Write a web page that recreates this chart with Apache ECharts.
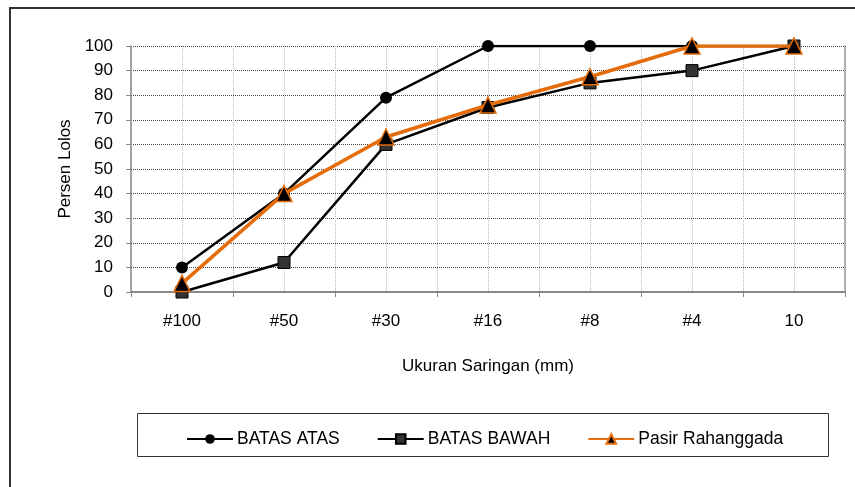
<!DOCTYPE html>
<html>
<head>
<meta charset="utf-8">
<script src="https://cdn.jsdelivr.net/npm/echarts@6/dist/echarts.min.js"></script>
<style>
  html, body { margin: 0; padding: 0; background: #fff; }
  #chart { width: 855px; height: 487px; }
</style>
</head>
<body>
<div id="chart"></div>
<script>
// ukuran saringan (sumbu x)
let categories = ['#100', '#50', '#30', '#16', '#8', '#4', '10']
let batasAtas = [10, 40, 79, 100, 100, 100, 100]
let batasBawah = [0, 12, 60, 75, 85, 90, 100]
let pasirRahanggada = [3.5, 40, 63, 76, 87.5, 100, 100]
let yTicks = [0, 10, 20, 30, 40, 50, 60, 70, 80, 90, 100]

let font = 'Liberation Sans, Arial, sans-serif'
let orange = '#E46C0A'

let options = {
  animation: false,
  backgroundColor: '#fff',
  textStyle: { fontFamily: font },
  grid: { left: 131, right: 10, top: 46, bottom: 195 },
  graphic: [
    // bingkai luar
    { type: 'rect', shape: { x: 10, y: 8, width: 870, height: 500 }, style: { fill: 'none', stroke: '#333', lineWidth: 2 }, silent: true },
    // kotak legend
    { type: 'rect', shape: { x: 137.5, y: 413.5, width: 691, height: 43 }, style: { fill: '#fff', stroke: '#333', lineWidth: 1 }, silent: true, z: -1 }
  ],
  legend: {
    left: 181,
    top: 425,
    itemWidth: 46,
    itemHeight: 12,
    itemGap: 37,
    textStyle: { fontFamily: font, fontSize: 17.5, color: '#000', padding: [0, 0, 0, -1] },
    data: ['BATAS ATAS', 'BATAS BAWAH', 'Pasir Rahanggada']
  },
  xAxis: [
    {
      type: 'category',
      data: categories,
      boundaryGap: true,
      name: 'Ukuran Saringan (mm)',
      nameLocation: 'middle',
      nameGap: 66,
      nameTextStyle: { fontFamily: font, fontSize: 17, color: '#000' },
      axisLine: { lineStyle: { color: '#888', width: 2 } },
      axisTick: { show: true, length: 5, lineStyle: { color: '#888' } },
      axisLabel: { margin: 21, fontSize: 17, color: '#000', fontFamily: font },
      splitLine: { show: false }
    },
    {
      // sumbu bantu untuk garis grid vertikal
      type: 'value',
      min: 0,
      max: 14,
      interval: 1,
      show: true,
      axisLine: { show: false },
      axisTick: { show: false },
      axisLabel: { show: false },
      splitLine: { show: true, lineStyle: { color: '#bbb', type: 'dotted', width: 1 } }
    }
  ],
  yAxis: [
    {
      type: 'value',
      min: 0,
      max: 100,
      interval: 10,
      name: 'Persen Lolos',
      nameLocation: 'middle',
      nameGap: 55,
      nameTextStyle: { fontFamily: font, fontSize: 17, color: '#000' },
      axisLine: { show: true, lineStyle: { color: '#888', width: 1.5 } },
      axisTick: { show: true, length: 5, lineStyle: { color: '#888' } },
      axisLabel: {
        margin: 18, fontSize: 17, color: '#000', fontFamily: font,
        formatter: v => yTicks.indexOf(v) >= 0 ? String(v) : ''
      },
      splitLine: { show: true, lineStyle: { color: '#444', type: 'dotted', width: 1 } }
    },
    {
      type: 'value',
      min: 0,
      max: 100,
      position: 'right',
      axisLine: { show: true, lineStyle: { color: '#999', width: 1.5 } },
      axisTick: { show: false },
      axisLabel: { show: false },
      splitLine: { show: false }
    }
  ],
  series: [
    {
      name: 'BATAS ATAS',
      type: 'line',
      data: batasAtas,
      symbol: 'circle',
      symbolSize: 12,
      lineStyle: { color: '#000', width: 2.5 },
      itemStyle: { color: '#000' },
      z: 3
    },
    {
      name: 'BATAS BAWAH',
      type: 'line',
      data: batasBawah,
      symbol: 'rect',
      symbolSize: 12,
      lineStyle: { color: '#000', width: 2.5 },
      itemStyle: { color: '#333', borderColor: '#000', borderWidth: 1 },
      z: 4
    },
    {
      name: 'Pasir Rahanggada',
      type: 'line',
      data: pasirRahanggada,
      symbol: 'triangle',
      symbolSize: 16,
      lineStyle: { color: orange, width: 3.5 },
      itemStyle: { color: '#000', borderColor: orange, borderWidth: 1.5 },
      z: 5
    }
  ]
}

let chartDom = document.getElementById('chart')
let myChart = echarts.init(chartDom)
myChart.setOption(options)
</script>
</body>
</html>
